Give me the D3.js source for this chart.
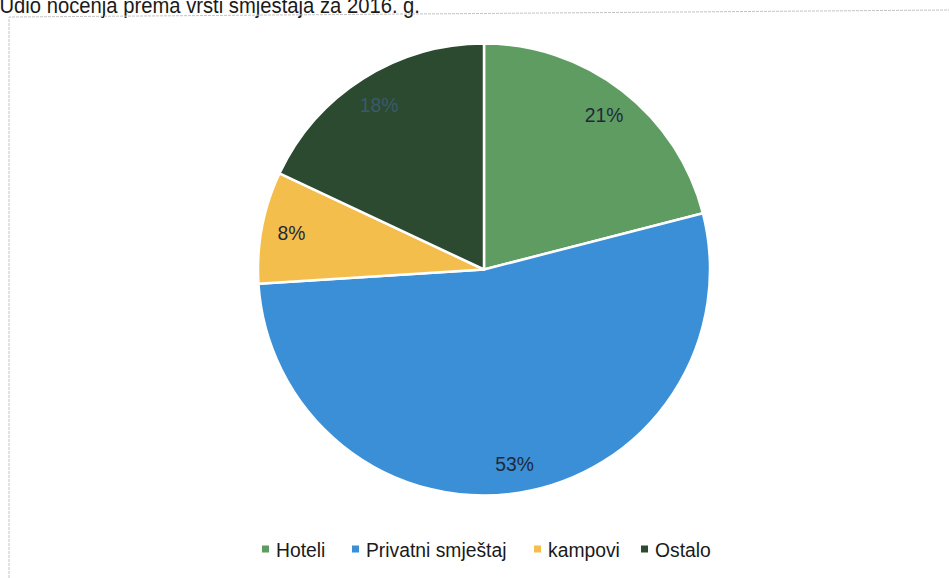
<!DOCTYPE html>
<html><head><meta charset="utf-8">
<script src="https://cdn.jsdelivr.net/npm/d3@7"></script>
<style>html,body{margin:0;padding:0;background:#fff;overflow:hidden}svg{display:block}</style>
</head><body>
<svg id="c" width="949" height="578"></svg>
<script>
const title = "Udio noćenja prema vrsti smještaja za 2016. g.";
const categories = ["Hoteli", "Privatni smještaj", "kampovi", "Ostalo"];
const values = [21, 53, 8, 18];
const colors = ["#5e9c62", "#3a8fd6", "#f4be4c", "#2c4a30"];

const svg = d3.select("#c");
const cx = 484, cy = 269.5, R = 226;
const FONT = "Liberation Sans, Arial, sans-serif";
const SX = 0.92; // scanned text looks slightly condensed

// title (cut off at the top, as in the scan)
svg.append("text")
  .attr("transform", `translate(420,13) scale(${SX},1)`)
  .attr("text-anchor", "end")
  .attr("font-family", FONT)
  .attr("font-size", 22).attr("fill", "#1a1a1a")
  .text(title);

// frame
svg.append("path")
  .attr("d", "M9,578 L9,17 L949,10")
  .attr("fill", "none").attr("stroke", "#c4c4c4").attr("stroke-width", 1)
  .attr("stroke-dasharray", "3,1");

const color = d3.scaleOrdinal().domain(categories).range(colors);
const data = categories.map((c, i) => ({ name: c, value: values[i] }));
const pie = d3.pie().value(d => d.value).sort(null);
const arcs = pie(data);
const arc = d3.arc().innerRadius(0).outerRadius(R);
const labelArc = d3.arc().innerRadius(196).outerRadius(196);

const g = svg.append("g").attr("transform", `translate(${cx},${cy})`);
g.selectAll("path.slice").data(arcs).enter().append("path")
  .attr("class", "slice")
  .attr("d", arc)
  .attr("fill", d => color(d.data.name))
  .attr("stroke", "#fff").attr("stroke-width", 2.5).attr("stroke-linejoin", "round");

g.selectAll("text.lbl").data(arcs).enter().append("text")
  .attr("class", "lbl")
  .attr("transform", d => { const c = labelArc.centroid(d); return `translate(${c[0]},${c[1]}) scale(${SX},1)`; })
  .attr("text-anchor", "middle").attr("dy", "0.36em")
  .attr("font-family", FONT)
  .attr("font-size", 21)
  .attr("fill", (d, i) => i === 3 ? "#3a5a6a" : "#1e2a3a")
  .text(d => d.data.value + "%");

// legend
const legendX = [262, 352, 534, 641];
const leg = svg.append("g");
categories.forEach((c, i) => {
  const gg = leg.append("g").attr("transform", `translate(${legendX[i]},549)`);
  gg.append("rect").attr("x", 0).attr("y", -3.5).attr("width", 7).attr("height", 7)
    .attr("fill", color(c));
  gg.append("text").attr("transform", `translate(14,0) scale(${SX},1)`).attr("dy", "0.36em")
    .attr("font-family", FONT)
    .attr("font-size", 21).attr("fill", "#1a1a1a")
    .text(c);
});
</script>
</body></html>
